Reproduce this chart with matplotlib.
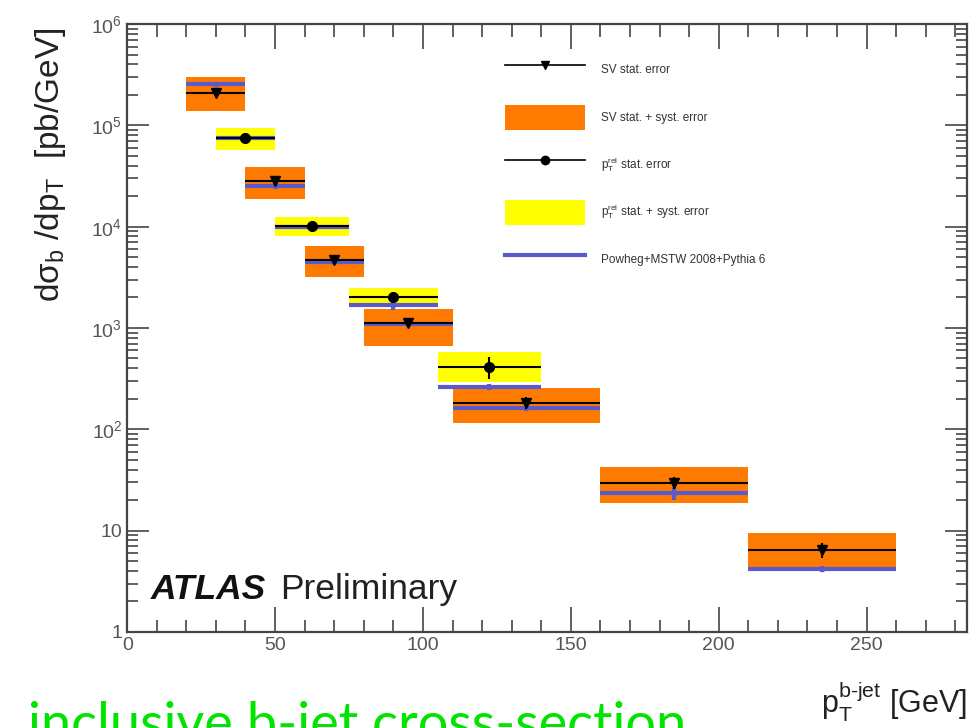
import matplotlib
matplotlib.use("Agg")
import matplotlib.pyplot as plt
from matplotlib.lines import Line2D
from matplotlib.patches import Patch
from matplotlib.ticker import FixedLocator, FixedFormatter, MultipleLocator, LogLocator, NullFormatter
import numpy as np

plt.rcParams['font.family'] = ['Liberation Sans', 'DejaVu Sans']
plt.rcParams['mathtext.fontset'] = 'custom'
plt.rcParams['mathtext.rm'] = 'Liberation Sans'
plt.rcParams['mathtext.it'] = 'Liberation Sans:italic'

# ---- SV method (orange) ----
sv_lo = [20, 40, 60, 80, 110, 160, 210]
sv_hi = [40, 60, 80, 110, 160, 210, 260]
sv_val = [2.09e5, 2.83e4, 4.7e3, 1.12e3, 182, 29.6, 6.45]
sv_stat = [1.2e4, 3.0e3, 4.0e2, 1.0e2, 25, 4.0, 1.1]
sv_sys_up = [3.01e5, 3.9e4, 6.46e3, 1.54e3, 256, 42.6, 9.5]
sv_sys_dn = [1.39e5, 1.89e4, 3.19e3, 666, 116, 18.8, 4.1]

# ---- pT rel method (yellow) ----
pr_lo = [30, 50, 75, 105]
pr_hi = [50, 75, 105, 140]
pr_val = [7.53e4, 1.02e4, 2.03e3, 413]
pr_stat = [5e3, 8e2, 2.5e2, 1.0e2]
pr_sys_up = [9.45e4, 1.25e4, 2.49e3, 581]
pr_sys_dn = [5.73e4, 8.1e3, 1.62e3, 294]

# ---- Powheg prediction ----
pw_sv = [2.57e5, 2.53e4, 4.5e3, 1.1e3, 163, 23.6, 4.19]
pw_sv_err = [8e3, 1.5e3, 2e2, 5e1, 10, 3.5, 0.3]
pw_pr = [7.5e4, 1.0e4, 1.69e3, 262]
pw_pr_err = [3e3, 4e2, 1.8e2, 20]

orange = '#ff7a00'
yellow = '#ffff00'
blue = '#5a5acd'

fig = plt.figure(figsize=(9.71, 7.28), dpi=100)
ax = fig.add_axes([0.131, 0.132, 0.865, 0.835])

sv_lo = np.array(sv_lo); sv_hi = np.array(sv_hi)
pr_lo = np.array(pr_lo); pr_hi = np.array(pr_hi)

# boxes: stat + syst
ax.bar(pr_lo, np.array(pr_sys_up) - np.array(pr_sys_dn), width=pr_hi - pr_lo,
       bottom=pr_sys_dn, align='edge', color=yellow, lw=0, zorder=1)
ax.bar(sv_lo, np.array(sv_sys_up) - np.array(sv_sys_dn), width=sv_hi - sv_lo,
       bottom=sv_sys_dn, align='edge', color=orange, lw=0, zorder=1)

# powheg
ax.errorbar((pr_lo + pr_hi) / 2, pw_pr, xerr=(pr_hi - pr_lo) / 2, yerr=pw_pr_err,
            fmt='o', ms=3, color=blue, lw=3, elinewidth=3, capsize=0, zorder=2)
ax.errorbar((sv_lo + sv_hi) / 2, pw_sv, xerr=(sv_hi - sv_lo) / 2, yerr=pw_sv_err,
            fmt='o', ms=3, color=blue, lw=3, elinewidth=3, capsize=0, zorder=2)

# data stat errors
ax.errorbar((pr_lo + pr_hi) / 2, pr_val, xerr=(pr_hi - pr_lo) / 2, yerr=pr_stat,
            fmt='o', ms=7, color='black', elinewidth=1.5, capsize=0, zorder=3)
ax.errorbar((sv_lo + sv_hi) / 2, sv_val, xerr=(sv_hi - sv_lo) / 2, yerr=sv_stat,
            fmt='v', ms=7, color='black', elinewidth=1.5, capsize=0, zorder=3)

ax.set_yscale('log')
ax.set_ylim(1, 1e6)
ax.set_xlim(0, 284)

ax.xaxis.set_major_locator(MultipleLocator(50))
ax.xaxis.set_minor_locator(MultipleLocator(10))
ax.yaxis.set_major_locator(FixedLocator([1, 10, 1e2, 1e3, 1e4, 1e5, 1e6]))
ax.yaxis.set_major_formatter(FixedFormatter(['1', '10', r'$\mathregular{10^2}$', r'$\mathregular{10^3}$',
                                             r'$\mathregular{10^4}$', r'$\mathregular{10^5}$',
                                             r'$\mathregular{10^6}$']))
ax.yaxis.set_minor_locator(LogLocator(base=10, subs=np.arange(2, 10), numticks=20))
ax.yaxis.set_minor_formatter(NullFormatter())

ax.tick_params(which='both', direction='in', top=True, right=True, color='#444444',
               labelcolor='#555555', labelsize=14)
ax.tick_params(which='major', length=18, width=1.2)
ax.tick_params(which='minor', length=9, width=1.2)
ax.tick_params(axis='y', which='major', length=16)
ax.tick_params(axis='y', which='minor', length=8)
for s in ax.spines.values():
    s.set_linewidth(1.6)
    s.set_color('#444444')

# ATLAS label
fig.text(151 / 971, 1 - 599 / 728, 'ATLAS', fontsize=25.5, fontweight='bold', style='italic',
         va='baseline', ha='left', color='#111111')
fig.text(280 / 971, 1 - 599 / 728, 'Preliminary', fontsize=25.5, va='baseline', ha='left',
         color='#222222')

# axis titles
fig.text(50 / 971, 1 - 165 / 728, r'd$\mathregular{\sigma_b}$ /dp$\mathregular{_T}$  [pb/GeV]',
         rotation=90, fontsize=24, ha='center', va='center', color='#222222')
fig.text(967 / 971, 1 - 713 / 728, r'p$\mathregular{_T^{b\text{-}jet}}$ [GeV]', fontsize=22,
         ha='right', va='baseline', color='#222222')

fig.text(28 / 971, -12 / 728, 'inclusive b-jet cross-section', fontsize=39, color='#00e400',
         family='Lato', ha='left', va='baseline')

# legend
handles = [
    Line2D([], [], color='black', marker='v', ms=6, lw=1.2),
    Patch(facecolor=orange, edgecolor='none'),
    Line2D([], [], color='black', marker='o', ms=6, lw=1.2),
    Patch(facecolor=yellow, edgecolor='none'),
    Line2D([], [], color=blue, lw=3),
]
labels = ['SV stat. error', 'SV stat. + syst. error', r'p$\mathregular{_T^{rel}}$ stat. error',
          r'p$\mathregular{_T^{rel}}$ stat. + syst. error', 'Powheg+MSTW 2008+Pythia 6']
leg = fig.legend(handles, labels, loc='upper left', bbox_to_anchor=(505 / 971, 1 - 57 / 728),
                 frameon=False, fontsize=8.5, handlelength=6.8, handleheight=2.9,
                 labelspacing=1.9, handletextpad=1.3, borderpad=0, borderaxespad=0)
for t in leg.get_texts():
    t.set_color('#333333')

fig.savefig('out.png', dpi=100)
